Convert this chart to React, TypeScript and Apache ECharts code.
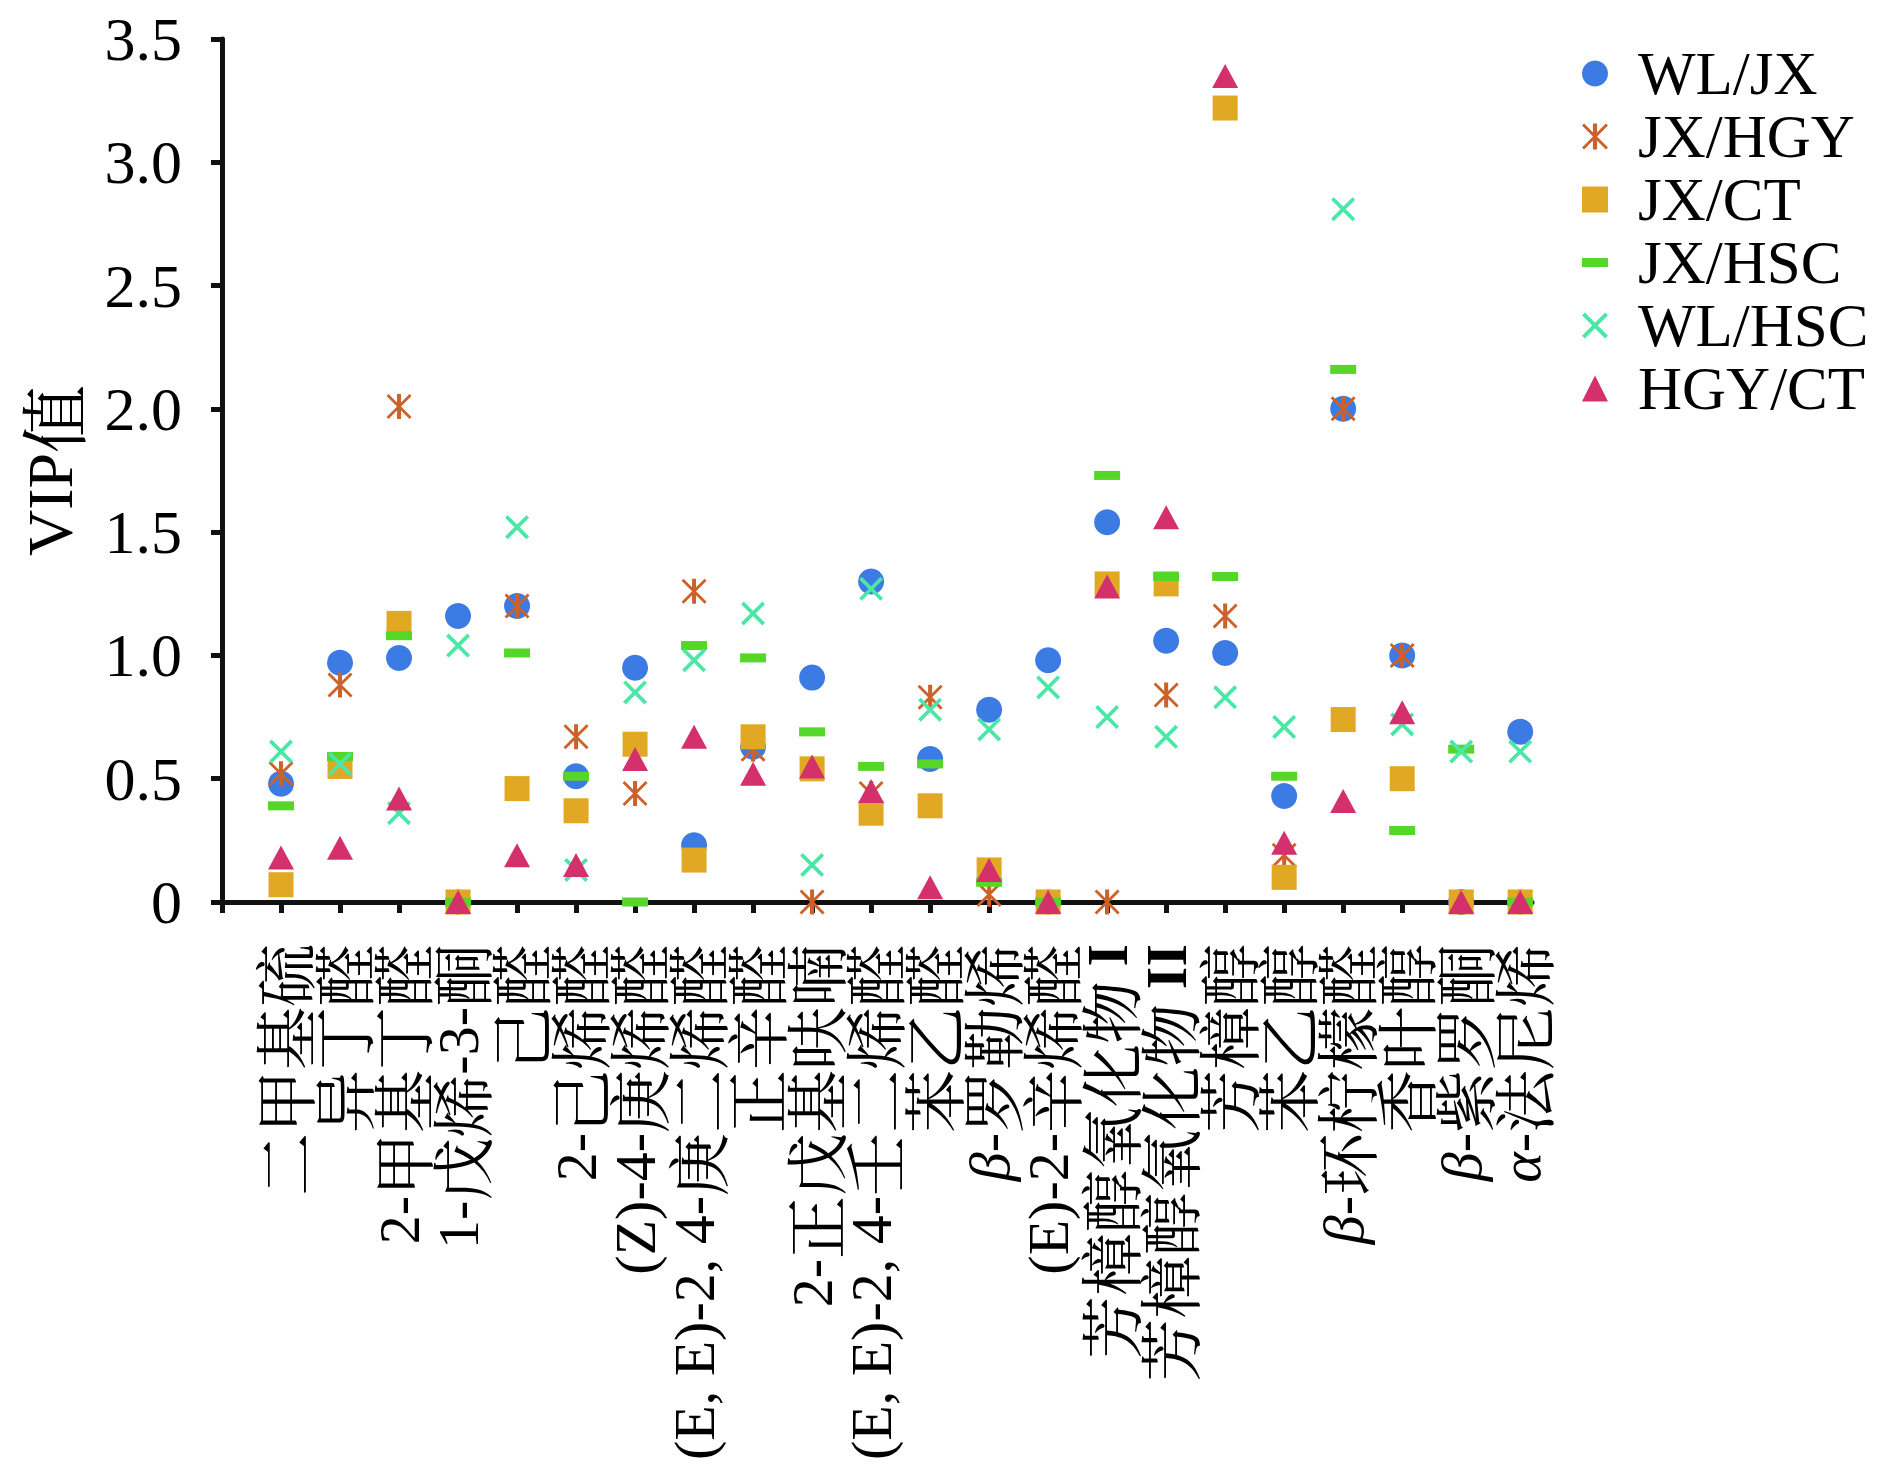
import React, { useEffect, useRef } from "react";
import * as echarts from "echarts";

const categories = [
  "二甲基硫", "异丁醛", "2-甲基丁醛", "1-戊烯-3-酮", "己醛", "2-己烯醛",
  "(Z)-4-庚烯醛", "(E, E)-2, 4-庚二烯醛", "正辛醛", "2-正戊基呋喃",
  "(E, E)-2, 4-壬二烯醛", "苯乙醛", "β-罗勒烯", "(E)-2-辛烯醛",
  "芳樟醇氧化物 I", "芳樟醇氧化物 II", "芳樟醇", "苯乙醇", "β-环柠檬醛",
  "香叶醇", "β-紫罗酮", "α-法尼烯",
];

const seriesNames = ["WL/JX", "JX/HGY", "JX/CT", "JX/HSC", "WL/HSC", "HGY/CT"];

const wlJx = [0.48, 0.97, 0.99, 1.16, 1.20, 0.51, 0.95, 0.23, 0.63, 0.91, 1.30, 0.58, 0.78, 0.98, 1.54, 1.06, 1.01, 0.43, 2.00, 1.00, 0, 0.69];
const jxHgy = [0.52, 0.88, 2.01, 0, 1.20, 0.67, 0.44, 1.26, 0.62, 0, 0.44, 0.83, 0.03, 0, 0, 0.84, 1.16, 0.19, 2.00, 1.00, 0, 0];
const jxCt = [0.07, 0.55, 1.13, 0, 0.46, 0.37, 0.64, 0.17, 0.67, 0.54, 0.36, 0.39, 0.13, 0, 1.29, 1.29, 3.22, 0.10, 0.74, 0.50, 0, 0];
const jxHsc = [0.39, 0.59, 1.08, 0, 1.01, 0.51, 0, 1.04, 0.99, 0.69, 0.55, 0.56, 0.08, 0, 1.73, 1.32, 1.32, 0.51, 2.16, 0.29, 0.62, 0];
const wlHsc = [0.61, 0.56, 0.36, 1.04, 1.52, 0.13, 0.85, 0.98, 1.17, 0.15, 1.27, 0.78, 0.70, 0.87, 0.75, 0.67, 0.83, 0.71, 2.81, 0.72, 0.61, 0.61];
const hgyCt = [0.18, 0.22, 0.42, 0, 0.19, 0.15, 0.58, 0.67, 0.52, 0.55, 0.45, 0.06, 0.13, 0, 1.28, 1.56, 3.35, 0.24, 0.41, 0.77, 0, 0];

const seriesValues = [wlJx, jxHgy, jxCt, jxHsc, wlHsc, hgyCt];

const colors = ["#3d7be4", "#cc6229", "#e0a823", "#56d629", "#4ce6a6", "#d4306c"];

const STAR = "path://M4.2,0L5.8,0L5.8,10L4.2,10Z M0.8,0L10,9.2L9.2,10L0,0.8Z M9.2,0L10,0.8L0.8,10L0,9.2Z";
const XMARK = "path://M1.1,0L10,8.9L8.9,10L0,1.1Z M8.9,0L10,1.1L1.1,10L0,8.9Z";
const DASH_ICON = "path://M0,0L26,0L26,9L0,9Z";

const symbols = ["circle", STAR, "rect", "rect", XMARK, "triangle"];
const symbolSizes: any[] = [26, 25, 25, [26, 9], 24, [26, 24]];
const legendIcons = ["circle", STAR, "rect", DASH_ICON, XMARK, "triangle"];

const FONT = "'Liberation Serif', 'Times New Roman', 'Noto Serif CJK SC', 'Noto Sans CJK SC', serif";
const CJK_FONT = "'Noto Serif CJK SC', 'Noto Sans CJK SC', serif";

function formatCategory(name: string): string {
  let s = name;
  s = s.replace(/[\u4e00-\u9fff]+/g, (m) => "{c|" + m + "}");
  s = s.replace(/^([βα])/, "{i|$1}");
  s = s.replace(/ (II|I)$/, " {b|$1}");
  return s;
}

export default function App() {
  const ref = useRef<HTMLDivElement>(null);

  useEffect(() => {
    document.body.style.margin = "0";
    if (!ref.current) return;
    const chart = echarts.init(ref.current, undefined, { renderer: "svg" });

    const n = categories.length;
    const tickVals = categories.map((_, i) => i).concat([n]);
    const XMAX = 22.2;
    const LEFT = 222;
    const TOP = 39;
    const BOTTOM = 577;
    const plotW = 1890 - LEFT - 358;
    const step = plotW / XMAX;
    const LH = 56;

    const option: any = {
      animation: false,
      backgroundColor: "#ffffff",
      grid: [
        { left: LEFT, right: 358, top: TOP, bottom: BOTTOM, containLabel: false },
        {
          left: LEFT + step * 0.5,
          width: step * n,
          top: TOP,
          bottom: BOTTOM,
          containLabel: false,
        },
      ],
      legend: {
        orient: "vertical",
        left: 1577,
        top: 38,
        itemWidth: 26,
        itemHeight: 26,
        itemGap: 2,
        symbolKeepAspect: true,
        textStyle: { fontSize: 61, fontFamily: FONT, color: "#000", padding: [0, 0, 0, 25] },
        data: seriesNames.map((nm, i) => ({ name: nm, icon: legendIcons[i] })),
      },
      xAxis: [
        {
          type: "value",
          gridIndex: 0,
          min: 0,
          max: XMAX,
          splitLine: { show: false },
          axisLine: { show: true, onZero: false, lineStyle: { color: "#111", width: 5 } },
          axisTick: {
            show: true,
            customValues: tickVals,
            length: 11,
            lineStyle: { color: "#111", width: 5 },
          },
          axisLabel: { show: false },
        },
        {
          type: "category",
          gridIndex: 1,
          data: categories,
          boundaryGap: true,
          axisLine: { show: false },
          axisTick: { show: false },
          splitLine: { show: false },
          axisLabel: {
            show: true,
            interval: 0,
            rotate: 90,
            margin: 42,
            fontSize: 58,
            lineHeight: LH,
            fontFamily: FONT,
            color: "#000",
            formatter: (v: string) => formatCategory(v),
            rich: {
              c: { fontSize: 63, lineHeight: LH, fontFamily: CJK_FONT, color: "#000" },
              i: { fontStyle: "italic", fontSize: 58, lineHeight: LH, fontFamily: FONT, color: "#000" },
              b: { fontWeight: "bold", fontSize: 58, lineHeight: LH, fontFamily: FONT, color: "#000" },
            },
          },
        },
      ],
      yAxis: [
        {
          type: "value",
          gridIndex: 0,
          min: 0,
          max: 3.5,
          interval: 0.5,
          name: "VIP{c|值}",
          nameLocation: "middle",
          nameGap: 140,
          nameTextStyle: {
            fontSize: 64,
            lineHeight: 64,
            fontFamily: FONT,
            color: "#000",
            rich: { c: { fontSize: 68, lineHeight: 64, fontFamily: CJK_FONT, color: "#000" } },
          },
          splitLine: { show: false },
          axisLine: { show: true, lineStyle: { color: "#111", width: 5 } },
          axisTick: { show: true, length: 11, lineStyle: { color: "#111", width: 5 } },
          axisLabel: {
            fontSize: 62,
            fontFamily: FONT,
            color: "#000",
            margin: 40,
            formatter: (v: number) => (v === 0 ? "0" : v.toFixed(1)),
          },
        },
        {
          type: "value",
          gridIndex: 1,
          min: 0,
          max: 3.5,
          show: false,
        },
      ],
      series: seriesNames.map((nm, si) => ({
        name: nm,
        type: "scatter",
        xAxisIndex: 0,
        yAxisIndex: 0,
        symbol: symbols[si],
        symbolSize: symbolSizes[si],
        symbolKeepAspect: true,
        itemStyle: { color: colors[si], opacity: 1 },
        z: 2 + si,
        data: seriesValues[si].map((v, i) => [i + 1, v]),
      })),
    };

    chart.setOption(option);
    return () => {
      chart.dispose();
    };
  }, []);

  return <div ref={ref} style={{ width: 1890, height: 1479 }} />;
}
